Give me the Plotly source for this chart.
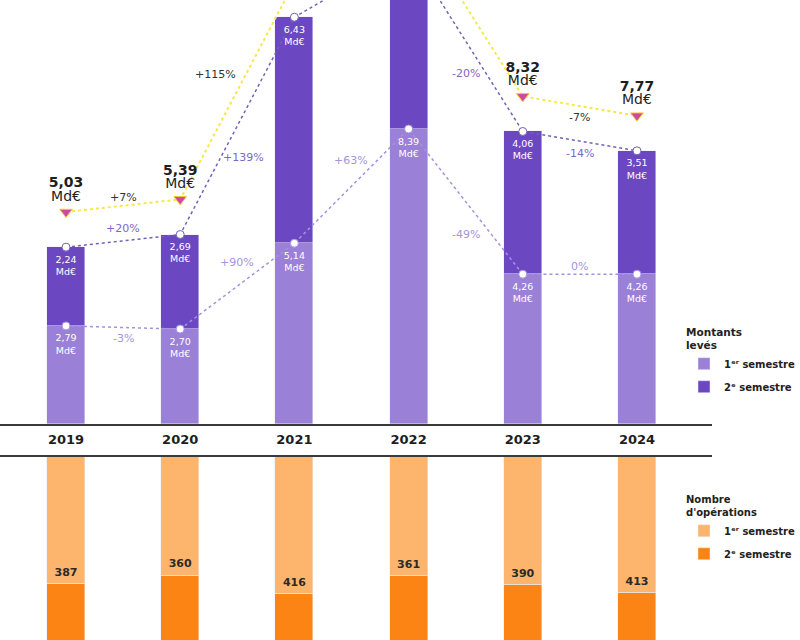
import plotly.graph_objects as go

# ---------------- data ----------------
years = ["2019", "2020", "2021", "2022", "2023", "2024"]
amount_s1 = [2.79, 2.70, 5.14, 8.39, 4.26, 4.26]      # Md€, 1er semestre
amount_s2 = [2.24, 2.69, 6.43, 5.07, 4.06, 3.51]      # Md€, 2e semestre
ops_s1 = [387, 360, 416, 361, 390, 413]                # nombre d'opérations, 1er semestre
ops_s2 = [350, 330, 440, 380, 330, 300]                # 2e semestre (hors cadre, estimé)
pct_total = ["+7%", "+115%", None, None, "-7%"]
pct_s2 = ["+20%", "+139%", None, "-20%", "-14%"]
pct_s1 = ["-3%", "+90%", "+63%", "-49%", "0%"]

# ---------------- styles ----------------
C_S1 = "#9a80d6"
C_S2 = "#6b47c2"
C_O1 = "#fdb46c"
C_O2 = "#fb8414"
C_YEL = "#f7e84a"
C_LINE_S2 = "#7361b8"
C_LINE_S1 = "#a592dc"
FONT = "DejaVu Sans"
Y_MAX = 12.06         # top of the visible amount axis (chart is cropped)
TOTAL_LIFT = 1.0      # triangle markers sit above the bar top (data units)
NUM_LIFT = 0.60       # number line above "Md€" line (data units)
INNER_DROP = 0.24     # in-bar labels drop below segment top (data units)
OPS_LIFT = 16         # ops label lift above segment end (data units)

x = list(range(len(years)))
totals = [round(a + b, 2) for a, b in zip(amount_s1, amount_s2)]
fmt = lambda v: f"{v:.2f}".replace(".", ",")
tops_lift = [t + TOTAL_LIFT for t in totals]
vis = lambda txt, y: txt if y < Y_MAX - 0.3 else ""   # labels of the cropped part are not shown

fig = go.Figure()

# top: stacked amounts
fig.add_trace(go.Bar(x=x, y=amount_s1, marker_color=C_S1, width=0.333, name="<b>1ᵉʳ semestre</b>",
                     xaxis="x", yaxis="y", legend="legend", legendgroup="a1"))
fig.add_trace(go.Bar(x=x, y=amount_s2, marker_color=C_S2, width=0.333, name="<b>2ᵉ semestre</b>",
                     xaxis="x", yaxis="y", legend="legend", legendgroup="a2"))

# S1 and total dotted lines with circle markers
fig.add_trace(go.Scatter(
    x=x, y=amount_s1, mode="lines+markers", xaxis="x", yaxis="y", showlegend=False,
    line=dict(color=C_LINE_S1, dash="dot", width=1.5),
    marker=dict(size=8, color="white", line=dict(color=C_LINE_S1, width=1)), cliponaxis=True))
fig.add_trace(go.Scatter(
    x=x, y=totals, mode="lines+markers", xaxis="x", yaxis="y", showlegend=False,
    line=dict(color=C_LINE_S2, dash="dot", width=1.5),
    marker=dict(size=8, color="white", line=dict(color=C_LINE_S2, width=1)), cliponaxis=True))

# in-bar value labels
fig.add_trace(go.Scatter(
    x=x, y=[v - INNER_DROP for v in amount_s1], mode="text", xaxis="x", yaxis="y", showlegend=False,
    text=[vis(f"{fmt(v)}<br>Md€", v) for v in amount_s1], textposition="bottom center",
    textfont=dict(color="white", size=9.5, family=FONT), cliponaxis=True))
fig.add_trace(go.Scatter(
    x=x, y=[v - INNER_DROP for v in totals], mode="text", xaxis="x", yaxis="y", showlegend=False,
    text=[vis(f"{fmt(v)}<br>Md€", t) for v, t in zip(amount_s2, totals)], textposition="bottom center",
    textfont=dict(color="white", size=9.5, family=FONT), cliponaxis=True))

# total (yellow) line with triangles
fig.add_trace(go.Scatter(
    x=x, y=tops_lift, mode="lines+markers+text", xaxis="x", yaxis="y", showlegend=False,
    line=dict(color=C_YEL, dash="dot", width=2),
    marker=dict(symbol="triangle-down", size=11, color="#cf48a6", line=dict(color="#f3c92e", width=1)),
    text=[vis("Md€", t) for t in tops_lift], textposition="top center",
    textfont=dict(color="#1e1e1e", size=14, family=FONT), cliponaxis=True))
fig.add_trace(go.Scatter(
    x=x, y=[t + NUM_LIFT for t in tops_lift], mode="text", xaxis="x", yaxis="y", showlegend=False,
    text=[vis(f"<b>{fmt(t)}</b>", tl) for t, tl in zip(totals, tops_lift)], textposition="top center",
    textfont=dict(color="#1e1e1e", size=14, family=FONT), cliponaxis=True))

# bottom: operations (hanging down)
fig.add_trace(go.Bar(x=x, y=ops_s1, marker_color=C_O1, width=0.333, name="<b>1ᵉʳ semestre</b>",
                     xaxis="x2", yaxis="y2", legend="legend2", legendgroup="o1"))
fig.add_trace(go.Bar(x=x, y=ops_s2, marker_color=C_O2, width=0.333, name="<b>2ᵉ semestre</b>",
                     xaxis="x2", yaxis="y2", legend="legend2", legendgroup="o2"))
fig.add_trace(go.Scatter(
    x=x, y=[v - OPS_LIFT for v in ops_s1], mode="text", xaxis="x2", yaxis="y2", showlegend=False,
    text=[f"<b>{v}</b>" for v in ops_s1], textposition="top center",
    textfont=dict(color="#2a2a2a", size=11, family=FONT), cliponaxis=True))

# percentage annotations at segment midpoints
pct_shift_total = [(0, 8), (-22, 16), None, None, (0, -11)]
pct_shift_s2 = [(0, 12), (6, -32), None, (0, -32), (0, -12)]
pct_shift_s1 = [(0, -11), (0, 24), (0, 26), (0, -33), (0, 8)]
series = [
    (tops_lift, pct_total, pct_shift_total, "#333333"),
    (totals, pct_s2, pct_shift_s2, "#7d68c8"),
    (amount_s1, pct_s1, pct_shift_s1, "#a594dc"),
]
for vals, labels, shifts, col in series:
    for i, lab in enumerate(labels):
        if lab is None:
            continue
        fig.add_annotation(x=i + 0.5, y=(vals[i] + vals[i + 1]) / 2, xref="x", yref="y",
                           text=lab, showarrow=False, xshift=shifts[i][0], yshift=shifts[i][1],
                           font=dict(size=11, color=col, family=FONT))

xrange = [-0.578, 5.657]
legend_common = dict(xanchor="left", yanchor="top", traceorder="grouped", tracegroupgap=4,
                     font=dict(size=10, color="#222", family=FONT), bgcolor="rgba(0,0,0,0)")
fig.update_layout(
    width=800, height=640, margin=dict(l=0, r=0, t=0, b=0),
    paper_bgcolor="white", plot_bgcolor="white",
    barmode="stack", bargap=0,
    font=dict(family=FONT, color="#222222"),
    xaxis=dict(domain=[0, 0.89], range=xrange, anchor="y", showline=True, linecolor="#3a3a3a",
               linewidth=1.5, tickvals=x, ticktext=[f"<b>{y}</b>" for y in years],
               tickfont=dict(size=13, color="#1e1e1e", family=FONT), ticks="",
               ticklabelstandoff=3, showgrid=False, zeroline=False, fixedrange=True),
    yaxis=dict(domain=[0.3375, 1], range=[0, Y_MAX], visible=False, showgrid=False),
    xaxis2=dict(domain=[0, 0.89], range=xrange, anchor="y2", side="top", showline=True,
                linecolor="#3a3a3a", linewidth=1.5, showticklabels=False, ticks="",
                showgrid=False, zeroline=False),
    yaxis2=dict(domain=[0, 0.286], range=[556, 0], visible=False, showgrid=False),
    legend=dict(x=0.855, y=0.497,
                title=dict(text="<b>Montants<br>levés</b>", font=dict(size=10.5, color="#222")),
                **legend_common),
    legend2=dict(x=0.855, y=0.234,
                 title=dict(text="<b>Nombre<br>d'opérations</b>", font=dict(size=10, color="#222")),
                 **legend_common),
)

fig.write_html("out.html", config={"displayModeBar": False},
               post_script="document.body.style.margin='0';document.body.style.overflow='hidden';")
